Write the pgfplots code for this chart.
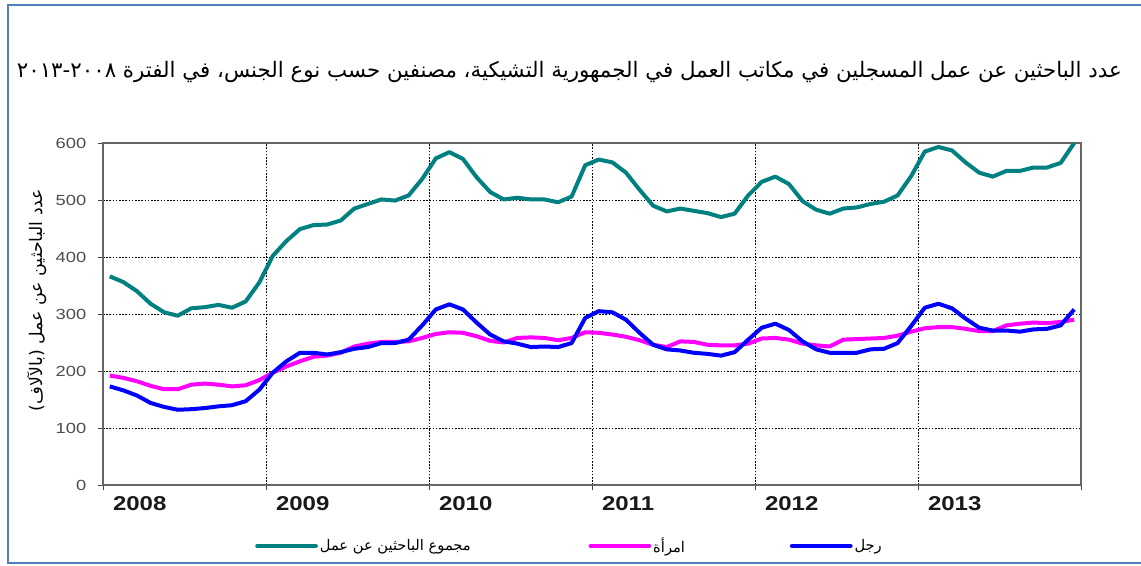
\documentclass[border=0pt]{standalone}
\usepackage{fontspec}
\setmainfont{Liberation Sans}
\newfontfamily\arabicfont[Script=Arabic]{DejaVu Sans}
\usepackage{pgfplots}
\usepackage{pgfplotstable}
\pgfplotsset{compat=1.18}
\TeXXeTstate=1
\definecolor{cTeal}{HTML}{008080}
\definecolor{cMag}{HTML}{FF00FF}
\definecolor{cBlue}{HTML}{0000FF}
\definecolor{cFrame}{HTML}{4F81BD}

\pgfplotstableread{
i t w m
0 366 192 173
1 356 188 166
2 340 182 157
3 318 174 144
4 303 168 137
5 297 168 132
6 310 176 133
7 312 178 135
8 316 176 138
9 311 173 140
10 322 175 147
11 355 184 167
12 402 197 197
13 428 208 217
14 449 217 232
15 456 225 232
16 457 227 229
17 464 232 233
18 485 243 239
19 493 248 242
20 501 251 249
21 499 251 249
22 508 252 255
23 537 258 280
24 573 265 308
25 584 268 317
26 572 267 308
27 540 261 285
28 514 253 264
29 501 250 252
30 504 258 248
31 501 259 242
32 501 258 243
33 496 254 242
34 506 258 249
35 561 268 293
36 571 267 305
37 566 264 303
38 548 260 290
39 518 254 267
40 490 246 246
41 480 242 238
42 485 252 236
43 481 251 232
44 477 246 230
45 470 245 227
46 476 245 233
47 508 248 255
48 532 257 276
49 541 258 283
50 528 255 272
51 498 248 252
52 483 245 238
53 476 243 232
54 485 255 232
55 487 256 232
56 493 257 238
57 497 258 239
58 508 262 249
59 542 269 279
60 585 275 311
61 593 277 318
62 587 277 310
63 566 274 292
64 548 270 276
65 541 270 271
66 551 280 271
67 551 283 269
68 557 285 273
69 557 284 274
70 565 286 280
71 600 290 308
}\datatable

\begin{document}
\begin{tikzpicture}
\useasboundingbox (0pt,0pt) rectangle (855.75pt,423.75pt);
\draw[cFrame, line width=2pt] (856pt,420pt) -- (6pt,420pt) -- (6pt,1.5pt) -- (856pt,1.5pt);
\node at (427pt,370pt) {\arabicfont\fontsize{16}{19}\selectfont\beginR عدد الباحثين عن عمل المسجلين في مكاتب العمل في الجمهورية التشيكية، مصنفين حسب نوع الجنس، في الفترة ٢٠٠٨-٢٠١٣\endR};
\node[rotate=90] at (27.75pt,198.75pt) {\arabicfont\fontsize{13}{15}\selectfont\beginR عدد الباحثين عن عمل (بالآلاف)\endR};
\begin{axis}[
  at={(77.25pt,60pt)}, anchor=south west,
  scale only axis, width=733.5pt, height=256.5pt,
  xmin=0, xmax=72, ymin=0, ymax=600,
  xtick={0,12,...,72},
  xticklabels={\scalebox{1.2}[1]{2008},\scalebox{1.2}[1]{2009},\scalebox{1.2}[1]{2010},\scalebox{1.2}[1]{2011},\scalebox{1.2}[1]{2012},\scalebox{1.2}[1]{2013},{}},
  ytick={0,100,...,600},
  yticklabel={\scalebox{1.25}[1]{\pgfmathprintnumber{\tick}}},
  tick align=outside, tick pos=left,
  major tick length=4pt,
  tick style={black!75, line width=0.7pt},
  axis line style={black!60, line width=0.9pt},
  grid=major,
  major grid style={black, line width=0.6pt, dash pattern=on 1.2pt off 1.2pt},
  /pgf/number format/assume math mode=true,
  yticklabel style={font=\fontsize{11}{12}\selectfont, text=black!70, xshift=-5pt},
  xticklabel style={font=\fontsize{15}{17}\selectfont\bfseries, text=black!90, anchor=north west, xshift=4pt, yshift=-1pt},
  legend style={at={(0.1554,-0.178)}, anchor=west, draw=none, fill=none, inner sep=0pt,
    legend columns=3, font=\arabicfont\fontsize{11}{13}\selectfont,
    /tikz/every even column/.append style={column sep=0pt},
    nodes={inner xsep=1.5pt}},
  legend image code/.code={\draw[#1, line width=3pt, line cap=round] (0pt,0pt) -- (44pt,0pt);},
]
\addplot[cTeal, line width=3pt, line join=round] table[x expr=\thisrow{i}+0.5, y=t] {\datatable};
\addlegendentry{\makebox[200pt][l]{\beginR مجموع الباحثين عن عمل\endR}}
\addplot[cMag, line width=3pt, line join=round] table[x expr=\thisrow{i}+0.5, y=w] {\datatable};
\addlegendentry{\makebox[101pt][l]{\beginR امرأة\endR}}
\addplot[cBlue, line width=3pt, line join=round] table[x expr=\thisrow{i}+0.5, y=m] {\datatable};
\addlegendentry{\beginR رجل\endR}
\end{axis}
\end{tikzpicture}
\end{document}
